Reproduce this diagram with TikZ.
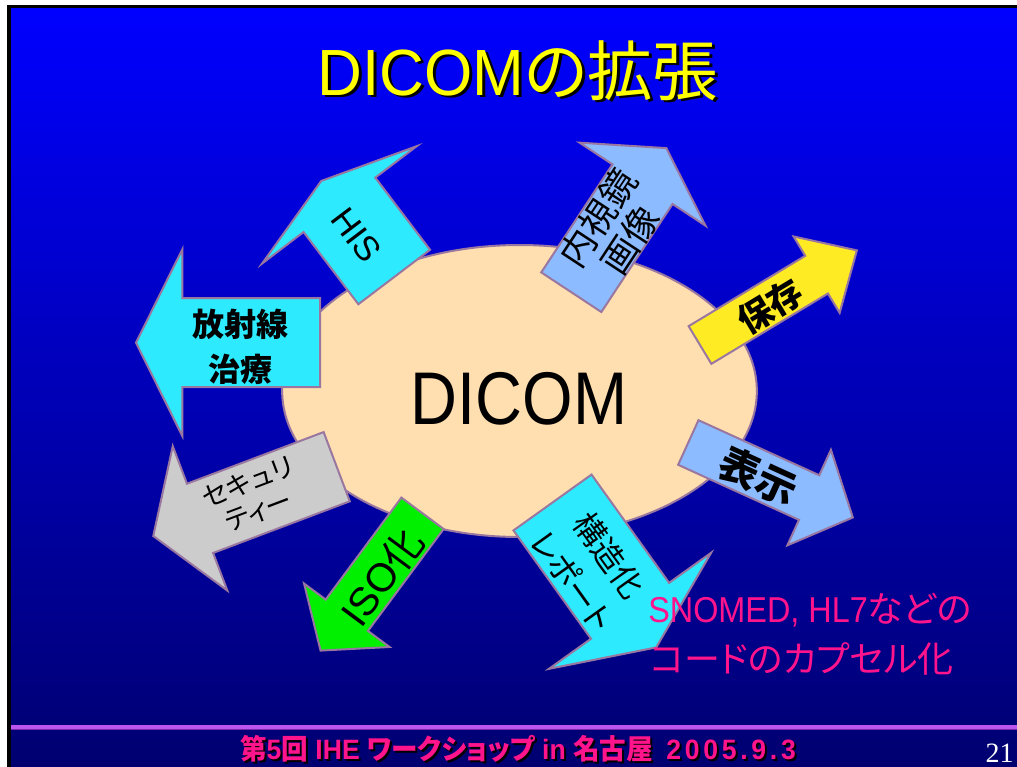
\documentclass[tikz,border=0pt]{standalone}
\usepackage{fontspec}
\usepackage{graphicx}
\setmainfont{Liberation Sans}
\newfontfamily\jp[RawFeature=+palt]{Noto Sans CJK JP}
\newfontfamily\sernum{Liberation Serif}
\usetikzlibrary{shapes.geometric}
\definecolor{bgtop}{RGB}{0,0,255}
\definecolor{bgbottom}{RGB}{0,0,112}
\definecolor{arrowedge}{RGB}{153,119,160}
\definecolor{peach}{RGB}{255,222,175}
\definecolor{cyanfill}{RGB}{46,234,254}
\definecolor{bluefill}{RGB}{140,187,255}
\definecolor{grayfill}{RGB}{204,204,204}
\definecolor{yellowfill}{RGB}{255,235,35}
\definecolor{greenfill}{RGB}{0,240,0}
\definecolor{titleyellow}{RGB}{255,255,0}
\definecolor{pinktext}{RGB}{255,20,140}
\definecolor{lineup}{RGB}{187,85,238}
\definecolor{linelow}{RGB}{120,40,170}

% #1 name, #2 base point, #3 angle, #4 shaft length, #5 shaft half width,
% #6 head length, #7 head half width, #8 fill
\newcommand\blkarrow[8]{%
  \begin{scope}[shift={#2},rotate=#3]
    \draw[arrowline,fill=#8] (0,-#5) -- (#4,-#5) -- (#4,-#7) -- ({#4+#6},0) -- (#4,#7) -- (#4,#5) -- (0,#5) -- cycle;
    \coordinate (#1) at ({#4/2},0);
  \end{scope}}

\newcommand\titletext{\scalebox{0.95}[1]{DICOM}{\jp の拡張}}
\newcommand\foottext{\scalebox{0.95}[1]{{\jp 第}5{\jp 回} IHE {\jp ワークショップ} in {\jp 名古屋}\hspace{0.5em}{\addfontfeature{LetterSpace=14}2005.9.3}}}

\begin{document}
\begin{tikzpicture}[x=0.75pt,y=-0.75pt,
  arrowline/.style={draw=arrowedge,line width=1.5pt,line join=miter},
  lbl/.style={inner sep=0pt,text=black,align=center}]
\useasboundingbox (0,0) rectangle (1017,767);
\fill[white] (0,0) rectangle (1017,767);
\fill[black] (7,5) rectangle (1017,767);
\shade[top color=bgtop,bottom color=bgbottom] (11,9) rectangle (1017,767);

% title
\node[anchor=base,inner sep=0pt,text=black,font=\fontsize{49}{58}\selectfont] (titleshadow) at (521,98) {\titletext};
\node[anchor=base,inner sep=0pt,text=titleyellow,font=\fontsize{49}{58}\selectfont] (title) at (518,95) {\titletext};

% central ellipse
\node[ellipse,draw=arrowedge,line width=1.5pt,fill=peach,minimum width=356pt,minimum height=219pt,inner sep=0pt] (core) at (519.5,391) {};
\node[anchor=base,inner sep=0pt,font=\fontsize{56}{60}\selectfont] (coretext) at (519,424) {\scalebox{0.87}[1]{DICOM}};

% arrows
\blkarrow{arad}{(320,342.7)}{180}{137.7}{44.5}{46.3}{93.3}{cyanfill}
\blkarrow{ahis}{(394.2,277)}{127.2}{90.6}{45}{30}{97}{cyanfill}
\blkarrow{aendo}{(571.3,292.2)}{56.6}{129.4}{36}{43.2}{75.4}{bluefill}
\blkarrow{astore}{(700,345)}{31.1}{136.2}{22}{47}{44.6}{yellowfill}
\blkarrow{adisp}{(688.3,442.5)}{-24.5}{132.8}{24.5}{48}{52.5}{bluefill}
\blkarrow{areport}{(552.5,502.5)}{-54.4}{133.2}{48}{45}{99.7}{cyanfill}
\blkarrow{aiso}{(422.5,513.3)}{233.4}{127}{26.3}{44}{53.2}{greenfill}
\blkarrow{asec}{(336.7,466.7)}{200.7}{146.1}{37}{50}{77.2}{grayfill}

% arrow labels
\node[lbl,font=\jp\bfseries\fontsize{24}{34}\selectfont] (radtext) at (240,347) {放射線\\治療};
\node[lbl,rotate=-52.8,font=\fontsize{26}{30}\selectfont] (histext) at (356.7,235) {HIS};
\node[lbl,rotate=56.6,font=\jp\fontsize{27}{29}\selectfont] (endotext) at (614,229) {内視鏡\\画像};
\node[lbl,rotate=31.1,font=\jp\bfseries\fontsize{26}{30}\selectfont] (storetext) at (770,306.7) {保存};
\node[lbl,rotate=-24.5,font=\jp\bfseries\fontsize{30}{34}\selectfont] (disptext) at (758.3,476.7) {表示};
\node[lbl,rotate=-54.4,font=\jp\fontsize{24}{34}\selectfont] (reporttext) at (591,568) {構造化\\レポート};
\node[lbl,rotate=53.4,font=\fontsize{30}{34}\selectfont] (isotext) at (381.7,576.7) {ISO{\jp 化}};
\node[lbl,rotate=20.7,font=\jp\fontsize{20}{23}\selectfont] (sectext) at (253.3,496.7) {セキュリ\\ティー};

% pink note
\node[anchor=base west,inner sep=0pt,text=pinktext,font=\fontsize{27}{30}\selectfont] (pink1) at (648,622) {\scalebox{0.9}[1]{SNOMED, HL7}{\jp などの}};
\node[anchor=base west,inner sep=0pt,text=pinktext,font=\jp\fontsize{27}{30}\selectfont] (pink2) at (650,672) {コードのカプセル化};

% footer
\fill[lineup] (11,725) rectangle (1017,728.5);
\fill[linelow] (11,728.5) rectangle (1017,729.5);
\node[anchor=base,inner sep=0pt,text=black,font=\bfseries\fontsize{21}{24}\selectfont] (footshadow) at (520,761) {\foottext};
\node[anchor=base,inner sep=0pt,text=pinktext,font=\bfseries\fontsize{21}{24}\selectfont] (foot) at (518,759) {\foottext};
\node[anchor=base east,inner sep=0pt,text=white,font=\sernum\fontsize{21}{24}\selectfont] (pagenum) at (1014,762) {21};
\end{tikzpicture}
\end{document}
